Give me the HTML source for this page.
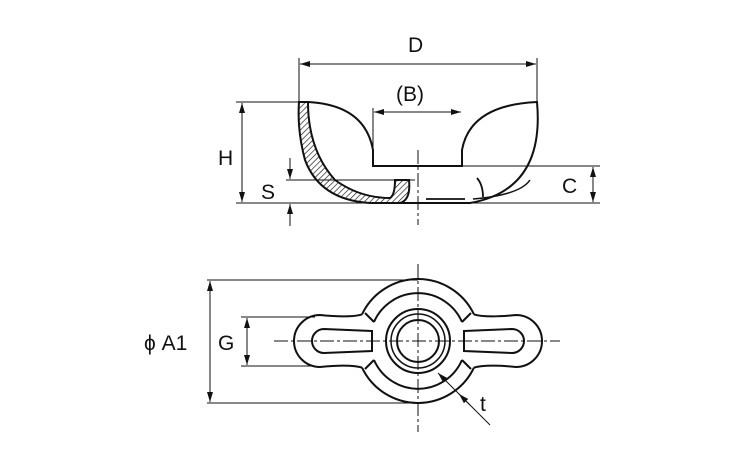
<!DOCTYPE html>
<html><head><style>body{margin:0;background:#fff}svg{display:block}text{font-family:"Liberation Sans",sans-serif;font-size:21px;fill:#111}</style></head><body>
<svg width="750" height="450" viewBox="0 0 750 450" xmlns="http://www.w3.org/2000/svg">
<defs>
<pattern id="h" width="4" height="4" patternUnits="userSpaceOnUse" patternTransform="rotate(45)"><line x1="0" y1="0" x2="0" y2="4" stroke="#111" stroke-width="1.3"/></pattern>
<marker id="a" markerWidth="10" markerHeight="6" refX="10" refY="3" orient="auto-start-reverse" markerUnits="userSpaceOnUse"><path d="M0,0L10,3L0,6z" fill="#111"/></marker>
</defs>
<g stroke="#111" fill="none">
<g stroke-width="1">
<line x1="299" y1="58" x2="299" y2="102"/><line x1="537" y1="58" x2="537" y2="102"/>
<line x1="300" y1="64" x2="536" y2="64" marker-start="url(#a)" marker-end="url(#a)"/>
<line x1="373" y1="108" x2="373" y2="166"/>
<line x1="374" y1="112" x2="461" y2="112" marker-start="url(#a)" marker-end="url(#a)"/>
<line x1="236" y1="102" x2="300" y2="102"/><line x1="236" y1="203" x2="600" y2="203"/>
<line x1="242" y1="103" x2="242" y2="202" marker-start="url(#a)" marker-end="url(#a)"/>
<line x1="286" y1="180" x2="415" y2="180"/>
<line x1="290" y1="158" x2="290" y2="179" marker-end="url(#a)"/>
<line x1="290" y1="226" x2="290" y2="204" marker-end="url(#a)"/>
<line x1="462" y1="166" x2="600" y2="166"/>
<line x1="593" y1="167" x2="593" y2="202" marker-start="url(#a)" marker-end="url(#a)"/>
<line x1="418" y1="150" x2="418" y2="225" stroke-dasharray="14,3,3,3"/>
</g>
<path d="M299,102 L308,102 Q308,150 335,180 Q360,198 390,198 Q395,195 395,180 L409,180 Q411,200 400,203 L370,203 Q320,200 305,160 Q297,130 299,102Z" fill="url(#h)" stroke-width="2"/>
<path d="M308,102 Q365,105 373,150 L373,166 L462,166 L462,150 Q470,105 537,102 Q545,190 470,203 L400,203" stroke-width="2"/>
<path d="M477,178 Q483,185 483,197" stroke-width="1.8"/>
<line x1="426" y1="199" x2="465" y2="199" stroke-width="1.8"/>
<path d="M473,199 Q520,195 530,180" stroke-width="1.5"/>
<g stroke-width="1">
<line x1="207" y1="280" x2="418" y2="280"/><line x1="207" y1="403" x2="418" y2="403"/>
<line x1="210" y1="281" x2="210" y2="402" marker-start="url(#a)" marker-end="url(#a)"/>
<line x1="241" y1="317" x2="315" y2="317"/><line x1="241" y1="366" x2="315" y2="366"/>
<line x1="247" y1="318" x2="247" y2="365" marker-start="url(#a)" marker-end="url(#a)"/>
<line x1="274" y1="341" x2="560" y2="341" stroke-dasharray="14,3,3,3"/>
<line x1="418" y1="264" x2="418" y2="432" stroke-dasharray="14,3,3,3"/>
<line x1="490" y1="425" x2="438" y2="373" marker-end="url(#a)"/>
<line x1="470" y1="405" x2="459" y2="394" marker-end="url(#a)"/>
</g>
<g stroke-width="2">
<!-- outer body circle arcs -->
<path d="M362,314.4 A62,62 0 0 1 474,314.4"/>
<path d="M362,367.6 A62,62 0 0 0 474,367.6"/>
<!-- wings -->
<path d="M362,314.4 Q350,318 320,315 A26,26 0 0 0 320,367 Q350,364 362,367.6"/>
<path d="M474,314.4 Q486,318 516,315 A26,26 0 0 1 516,367 Q486,364 474,367.6"/>
<path d="M372,331 L324,329 A12,12 0 0 0 324,353 L372,351 Z"/>
<path d="M464,331 L512,329 A12,12 0 0 1 512,353 L464,351 Z"/>
<!-- inner ring -->
<path d="M374,322 A48,48 0 0 1 462,322 M374,360 A48,48 0 0 0 462,360"/>
<line x1="365" y1="313" x2="374" y2="322"/><line x1="471" y1="313" x2="462" y2="322"/>
<line x1="365" y1="369" x2="374" y2="360"/><line x1="471" y1="369" x2="462" y2="360"/>
<line x1="372" y1="331" x2="372" y2="351"/><line x1="464" y1="331" x2="464" y2="351"/>
<circle cx="418" cy="341" r="32"/>
<circle cx="418" cy="341" r="27" stroke-width="1.5"/>
<circle cx="418" cy="341" r="21"/>
</g>
</g>
<text x="408" y="52">D</text>
<text x="396" y="101">(B)</text>
<text x="218" y="165">H</text>
<text x="261" y="199">S</text>
<text x="562" y="193">C</text>
<text x="144" y="350">ϕ A1</text>
<text x="218" y="350">G</text>
<text x="480" y="411">t</text>
</svg>
</body></html>
